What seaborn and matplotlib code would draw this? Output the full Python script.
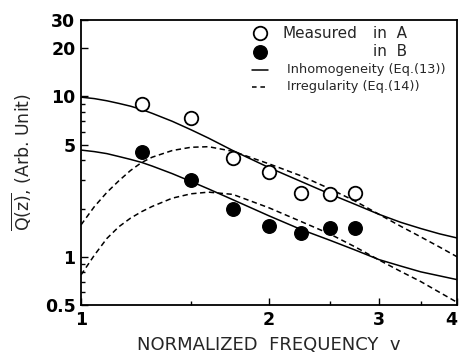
import matplotlib
matplotlib.use("Agg")
import matplotlib.pyplot as plt
import seaborn as sns
import pandas as pd
from matplotlib.ticker import FixedLocator, NullFormatter, FixedFormatter

# ---- data ----
freq_meas = [1.25, 1.5, 1.75, 2.0, 2.25, 2.5, 2.75]
meas_A = [9.0, 7.3, 4.15, 3.4, 2.5, 2.45, 2.5]
meas_B = [4.5, 3.0, 1.98, 1.55, 1.4, 1.52, 1.52]

freq_curve = [1.0, 1.05, 1.1, 1.15, 1.2, 1.25, 1.3, 1.4, 1.5, 1.6,
              1.75, 2.0, 2.25, 2.5, 2.75, 3.0, 3.25, 3.5, 3.75, 4.0]
inhomog_A = [9.9, 9.7, 9.4, 9.05, 8.7, 8.3, 7.85, 7.0, 6.2, 5.5,
             4.6, 3.6, 2.95, 2.47, 2.12, 1.84, 1.64, 1.50, 1.39, 1.31]
inhomog_B = [4.63, 4.53, 4.4, 4.22, 4.05, 3.88, 3.68, 3.3, 2.95, 2.65,
             2.27, 1.8, 1.48, 1.27, 1.10, 0.96, 0.875, 0.805, 0.76, 0.72]
irreg_A = [1.58, 2.05, 2.52, 2.98, 3.45, 3.87, 4.18, 4.6, 4.82, 4.86,
           4.55, 3.8, 3.2, 2.66, 2.22, 1.84, 1.55, 1.33, 1.15, 1.0]
irreg_B = [0.77, 1.02, 1.3, 1.54, 1.74, 1.91, 2.06, 2.32, 2.47, 2.53,
           2.45, 2.02, 1.66, 1.39, 1.15, 0.955, 0.81, 0.70, 0.60, 0.52]

y_ticks = [0.5, 1, 5, 10, 20, 30]
y_ticklabels = ["0.5", "1", "5", "10", "20", "30"]
x_ticks = [1, 2, 3, 4]
x_ticklabels = ["1", "2", "3", "4"]

sns.set_style("ticks")
plt.rcParams['font.family'] = ['DejaVu Sans']
plt.rcParams['mathtext.fontset'] = 'dejavusans'

fig = plt.figure(figsize=(4.61, 3.52), dpi=100)
ax = fig.add_axes([81/461, 1-305/352, 376/461, 285/352])
ax.set_xscale("log")
ax.set_yscale("log")

lw = 1.1
dash = (0, (3.5, 2.3))
for vals, ls in [(inhomog_A, "-"), (inhomog_B, "-"), (irreg_A, dash), (irreg_B, dash)]:
    df = pd.DataFrame({"v": freq_curve, "q": vals})
    sns.lineplot(data=df, x="v", y="q", ax=ax, color="black", lw=lw,
                 linestyle=ls, estimator=None, sort=False)

dfA = pd.DataFrame({"v": freq_meas, "q": meas_A})
dfB = pd.DataFrame({"v": freq_meas, "q": meas_B})
sns.scatterplot(data=dfA, x="v", y="q", ax=ax, s=95, facecolor="white",
                edgecolor="black", linewidth=1.3, zorder=5)
sns.scatterplot(data=dfB, x="v", y="q", ax=ax, s=95, color="black",
                edgecolor="black", linewidth=1.0, zorder=5)

ax.set_xlim(1, 4)
ax.set_ylim(0.5, 30)

ax.xaxis.set_major_locator(FixedLocator(x_ticks))
ax.xaxis.set_major_formatter(FixedFormatter(x_ticklabels))
ax.xaxis.set_minor_locator(FixedLocator([1.5, 2.5, 3.5]))
ax.xaxis.set_minor_formatter(NullFormatter())
ax.yaxis.set_major_locator(FixedLocator(y_ticks))
ax.yaxis.set_major_formatter(FixedFormatter(y_ticklabels))
ax.yaxis.set_minor_locator(FixedLocator([0.6, 0.7, 0.8, 0.9, 2, 3, 4, 6, 7, 8, 9]))
ax.yaxis.set_minor_formatter(NullFormatter())

ax.tick_params(which="both", direction="in", width=1.0, colors="black")
ax.tick_params(which="major", length=5, labelsize=12.5, pad=4)
ax.tick_params(which="minor", length=3)
for lab in ax.get_xticklabels() + ax.get_yticklabels():
    lab.set_fontweight("bold")
ax.get_xticklabels()[-1].set_horizontalalignment("right")

for sp in ax.spines.values():
    sp.set_visible(True)
    sp.set_linewidth(1.3)
    sp.set_color("black")

ax.set_xlabel("NORMALIZED  FREQUENCY  v", fontsize=13, labelpad=5)
ax.set_ylabel(r"$\overline{\mathrm{Q(z)}}$, (Arb. Unit)", fontsize=12.5, labelpad=8)

# legend (manual, in axes coordinates)
tr = ax.transAxes
ax.scatter([0.476], [0.954], s=95, facecolor="white", edgecolor="black", lw=1.3, transform=tr, clip_on=False, zorder=6)
ax.scatter([0.476], [0.888], s=95, color="black", transform=tr, clip_on=False, zorder=6)
ax.plot([0.455, 0.497], [0.825, 0.825], color="black", lw=lw, transform=tr)
ax.plot([0.455, 0.497], [0.765, 0.765], color="black", lw=lw, linestyle=(0, (3, 2.5)), transform=tr)
ax.text(0.535, 0.954, "Measured", fontsize=11, va="center", ha="left", transform=tr)
ax.text(0.777, 0.954, "in  A", fontsize=11, va="center", ha="left", transform=tr)
ax.text(0.777, 0.888, "in  B", fontsize=11, va="center", ha="left", transform=tr)
ax.text(0.548, 0.825, "Inhomogeneity (Eq.(13))", fontsize=9.3, va="center", ha="left", transform=tr)
ax.text(0.548, 0.765, "Irregularity (Eq.(14))", fontsize=9.3, va="center", ha="left", transform=tr)

fig.savefig("out.png", dpi=100)
